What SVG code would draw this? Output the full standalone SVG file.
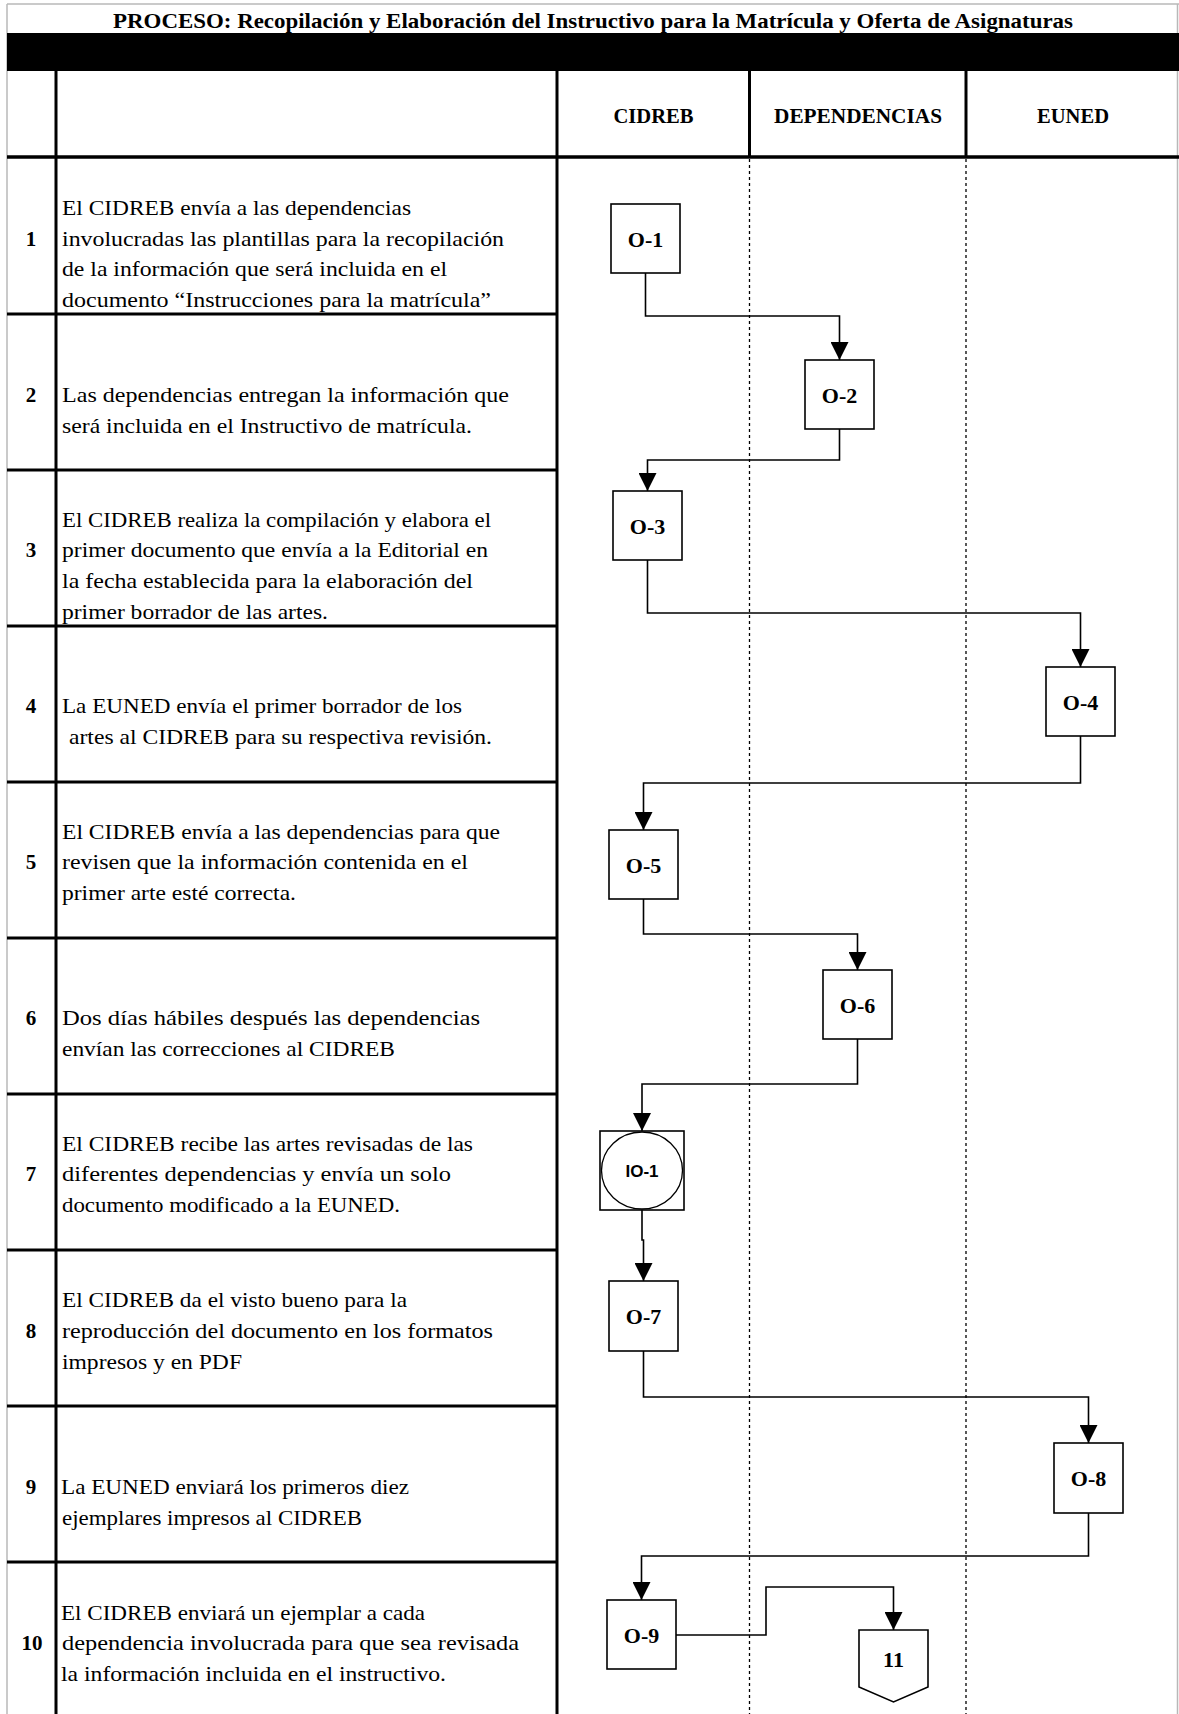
<svg xmlns="http://www.w3.org/2000/svg" width="1179" height="1714" viewBox="0 0 1179 1714">
<style>
.grid{stroke:#000;stroke-width:3;fill:none}
.lite{stroke:#b8b8b8;stroke-width:1.5;fill:none}
.lane{stroke:#000;stroke-width:1.3;stroke-dasharray:3 3;fill:none}
.box{fill:#fff;stroke:#000;stroke-width:1.6}
.con{fill:none;stroke:#000;stroke-width:1.6;marker-end:url(#arr)}
.t{font-family:"Liberation Serif","Times New Roman",serif;font-size:21px;fill:#000}
.n{font-family:"Liberation Serif","Times New Roman",serif;font-size:21px;font-weight:bold;fill:#000;text-anchor:middle}
.h{font-family:"Liberation Serif","Times New Roman",serif;font-size:21px;font-weight:bold;fill:#000;text-anchor:middle}
.lbl{font-family:"Liberation Serif","Times New Roman",serif;font-size:22px;font-weight:bold;fill:#000;text-anchor:middle}
.lbls{font-family:"Liberation Sans",Arial,sans-serif;font-size:17px;font-weight:bold;fill:#000;text-anchor:middle}
</style>
<defs>
<marker id="arr" viewBox="0 0 18 18" refX="18" refY="9" markerWidth="18" markerHeight="18" markerUnits="userSpaceOnUse" orient="auto">
<path d="M0,0 L18,9 L0,18 z" fill="#000"/>
</marker>
</defs>
<rect x="0" y="0" width="1179" height="1714" fill="#fff"/>
<g id="table">
<line class="lite" x1="7" y1="4" x2="1179" y2="4"/>
<line class="lite" x1="7" y1="4" x2="7" y2="1714"/>
<line class="lite" x1="1177.5" y1="4" x2="1177.5" y2="1714"/>
<rect x="7" y="33" width="1172" height="38" fill="#000"/>
<text x="113" y="27.5" font-family="Liberation Serif, Times New Roman, serif" font-size="22" font-weight="bold" textLength="960" lengthAdjust="spacingAndGlyphs">PROCESO: Recopilación y Elaboración del Instructivo  para la Matrícula y Oferta de Asignaturas</text>
<line class="grid" x1="56" y1="71" x2="56" y2="1714"/>
<line class="grid" x1="557" y1="71" x2="557" y2="1714"/>
<line class="grid" x1="749.5" y1="71" x2="749.5" y2="157"/>
<line class="grid" x1="966" y1="71" x2="966" y2="157"/>
<line x1="7" y1="157" x2="1179" y2="157" stroke="#000" stroke-width="3.5"/>
<line class="grid" x1="7" y1="314" x2="557" y2="314"/>
<line class="grid" x1="7" y1="470" x2="557" y2="470"/>
<line class="grid" x1="7" y1="626" x2="557" y2="626"/>
<line class="grid" x1="7" y1="782" x2="557" y2="782"/>
<line class="grid" x1="7" y1="938" x2="557" y2="938"/>
<line class="grid" x1="7" y1="1094" x2="557" y2="1094"/>
<line class="grid" x1="7" y1="1250" x2="557" y2="1250"/>
<line class="grid" x1="7" y1="1406" x2="557" y2="1406"/>
<line class="grid" x1="7" y1="1562" x2="557" y2="1562"/>
<line class="lane" x1="749.5" y1="159" x2="749.5" y2="1714"/>
<line class="lane" x1="966" y1="159" x2="966" y2="1714"/>
<text class="h" x="653.5" y="122.5" textLength="80" lengthAdjust="spacingAndGlyphs">CIDREB</text>
<text class="h" x="858" y="122.5" textLength="168" lengthAdjust="spacingAndGlyphs">DEPENDENCIAS</text>
<text class="h" x="1073" y="122.5" textLength="72" lengthAdjust="spacingAndGlyphs">EUNED</text>
</g>
<g id="steps">
<text class="n" x="31" y="245.5">1</text>
<text class="t" x="62" y="215" textLength="349" lengthAdjust="spacingAndGlyphs">El CIDREB envía a las dependencias</text>
<text class="t" x="62" y="245.5" textLength="442" lengthAdjust="spacingAndGlyphs">involucradas las plantillas para la recopilación</text>
<text class="t" x="62" y="276" textLength="385" lengthAdjust="spacingAndGlyphs">de la información que será incluida en el</text>
<text class="t" x="62" y="307" textLength="429" lengthAdjust="spacingAndGlyphs">documento “Instrucciones para la matrícula”</text>
<text class="n" x="31" y="402">2</text>
<text class="t" x="62" y="402" textLength="447" lengthAdjust="spacingAndGlyphs">Las dependencias entregan la información que</text>
<text class="t" x="62" y="433" textLength="410" lengthAdjust="spacingAndGlyphs">será incluida en el Instructivo de matrícula.</text>
<text class="n" x="31" y="557">3</text>
<text class="t" x="62" y="527" textLength="429" lengthAdjust="spacingAndGlyphs">El CIDREB realiza la compilación y elabora el</text>
<text class="t" x="62" y="557" textLength="426" lengthAdjust="spacingAndGlyphs">primer documento que envía a la Editorial en</text>
<text class="t" x="62" y="588" textLength="411" lengthAdjust="spacingAndGlyphs">la fecha establecida para la elaboración del</text>
<text class="t" x="62" y="619" textLength="266" lengthAdjust="spacingAndGlyphs">primer borrador de las artes.</text>
<text class="n" x="31" y="713">4</text>
<text class="t" x="62" y="713" textLength="400" lengthAdjust="spacingAndGlyphs">La EUNED envía el primer borrador de los</text>
<text class="t" x="69" y="744" textLength="423" lengthAdjust="spacingAndGlyphs">artes al CIDREB para su respectiva revisión.</text>
<text class="n" x="31" y="869">5</text>
<text class="t" x="62" y="838.5" textLength="438" lengthAdjust="spacingAndGlyphs">El CIDREB envía a las dependencias para que</text>
<text class="t" x="62" y="869" textLength="406" lengthAdjust="spacingAndGlyphs">revisen que la información contenida en el</text>
<text class="t" x="62" y="900" textLength="234" lengthAdjust="spacingAndGlyphs">primer arte esté correcta.</text>
<text class="n" x="31" y="1025">6</text>
<text class="t" x="62" y="1025" textLength="418" lengthAdjust="spacingAndGlyphs">Dos días hábiles después las dependencias</text>
<text class="t" x="62" y="1056" textLength="333" lengthAdjust="spacingAndGlyphs">envían las correcciones al CIDREB</text>
<text class="n" x="31" y="1181">7</text>
<text class="t" x="62" y="1150.5" textLength="411" lengthAdjust="spacingAndGlyphs">El CIDREB recibe las artes revisadas de las</text>
<text class="t" x="62" y="1181" textLength="389" lengthAdjust="spacingAndGlyphs">diferentes dependencias y envía un solo</text>
<text class="t" x="62" y="1212" textLength="338" lengthAdjust="spacingAndGlyphs">documento modificado a la EUNED.</text>
<text class="n" x="31" y="1338">8</text>
<text class="t" x="62" y="1307" textLength="345" lengthAdjust="spacingAndGlyphs">El CIDREB da el visto bueno para la</text>
<text class="t" x="62" y="1338" textLength="431" lengthAdjust="spacingAndGlyphs">reproducción del documento en los formatos</text>
<text class="t" x="62" y="1368.5" textLength="180" lengthAdjust="spacingAndGlyphs">impresos y en PDF</text>
<text class="n" x="31" y="1494">9</text>
<text class="t" x="61" y="1494" textLength="348" lengthAdjust="spacingAndGlyphs">La EUNED enviará los primeros diez</text>
<text class="t" x="62" y="1525" textLength="300" lengthAdjust="spacingAndGlyphs">ejemplares impresos al CIDREB</text>
<text class="n" x="32" y="1650">10</text>
<text class="t" x="61" y="1620" textLength="364" lengthAdjust="spacingAndGlyphs">El CIDREB enviará un ejemplar a cada</text>
<text class="t" x="62" y="1650" textLength="457" lengthAdjust="spacingAndGlyphs">dependencia involucrada para que sea revisada</text>
<text class="t" x="61" y="1681" textLength="385" lengthAdjust="spacingAndGlyphs">la información incluida en el instructivo.</text>
</g>
<g id="connectors">
<path class="con" d="M645.5,273 V316 H839.5 V360"/>
<path class="con" d="M839.5,429 V460 H647.5 V491"/>
<path class="con" d="M647.5,560 V613 H1080.5 V667"/>
<path class="con" d="M1080.5,736 V783 H643.5 V830"/>
<path class="con" d="M643.5,899 V934 H857.5 V970"/>
<path class="con" d="M857.5,1039 V1084 H642 V1131"/>
<path class="con" d="M642,1210 V1240 H643.5 V1281"/>
<path class="con" d="M643.5,1351 V1397 H1088.5 V1443"/>
<path class="con" d="M1088.5,1513 V1556 H641.5 V1600"/>
<path class="con" d="M676,1635 H766 V1587 H893.5 V1630"/>
</g>
<g id="O-1"><rect class="box" x="611" y="204" width="69" height="69"/><text class="lbl" x="645.5" y="246.5">O-1</text></g>
<g id="O-2"><rect class="box" x="805" y="360" width="69" height="69"/><text class="lbl" x="839.5" y="402.5">O-2</text></g>
<g id="O-3"><rect class="box" x="613" y="491" width="69" height="69"/><text class="lbl" x="647.5" y="533.5">O-3</text></g>
<g id="O-4"><rect class="box" x="1046" y="667" width="69" height="69"/><text class="lbl" x="1080.5" y="709.5">O-4</text></g>
<g id="O-5"><rect class="box" x="609" y="830" width="69" height="69"/><text class="lbl" x="643.5" y="872.5">O-5</text></g>
<g id="O-6"><rect class="box" x="823" y="970" width="69" height="69"/><text class="lbl" x="857.5" y="1012.5">O-6</text></g>
<g id="IO-1"><rect class="box" x="600" y="1131" width="84" height="79"/><ellipse cx="642" cy="1170.5" rx="40.5" ry="38.5" fill="#fff" stroke="#000" stroke-width="1.3"/><text class="lbls" x="642" y="1177">IO-1</text></g>
<g id="O-7"><rect class="box" x="609" y="1281" width="69" height="70"/><text class="lbl" x="643.5" y="1324">O-7</text></g>
<g id="O-8"><rect class="box" x="1054" y="1443" width="69" height="70"/><text class="lbl" x="1088.5" y="1486">O-8</text></g>
<g id="O-9"><rect class="box" x="607" y="1600" width="69" height="69"/><text class="lbl" x="641.5" y="1642.5">O-9</text></g>
<g id="C-11"><path class="box" d="M859,1630 H928 V1687 L893.5,1702 L859,1687 Z"/><text class="lbl" x="893.5" y="1667">11</text></g>
</svg>
